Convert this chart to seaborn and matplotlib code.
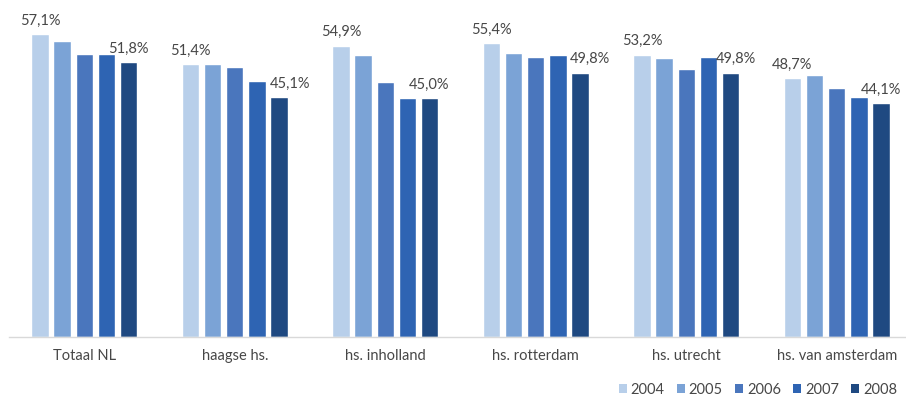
import matplotlib
matplotlib.use("Agg")
import matplotlib.pyplot as plt
import seaborn as sns
import pandas as pd
from matplotlib.patches import Patch

categories = ["Totaal NL", "haagse hs.", "hs. inholland", "hs. rotterdam", "hs. utrecht", "hs. van amsterdam"]
years = ["2004", "2005", "2006", "2007", "2008"]
v2004 = [57.1, 51.4, 54.9, 55.4, 53.2, 48.7]
v2005 = [55.8, 51.4, 53.2, 53.4, 52.5, 49.3]
v2006 = [53.3, 50.8, 48.1, 52.7, 50.4, 46.9]
v2007 = [53.3, 48.2, 45.0, 53.1, 52.7, 45.1]
v2008 = [51.8, 45.1, 45.0, 49.8, 49.8, 44.1]
colors = ["#B8CFEA", "#7BA3D6", "#4A76BD", "#2E64B3", "#1F4981"]
# horizontal nudges (points) of the 2008 value labels, as placed in the original
label_dx_2008 = [0, 8, 0, 7, 3.6, 0]

series = [v2004, v2005, v2006, v2007, v2008]
rows = []
for y, vals in zip(years, series):
    for c, v in zip(categories, vals):
        rows.append({"cat": c, "year": y, "val": v})
df = pd.DataFrame(rows)

sns.set_theme(style="white")
plt.rcParams['font.family'] = ['Lato', 'DejaVu Sans']

fig = plt.figure(figsize=(9.06, 4.01), dpi=100)
W, H = 906, 401
left, right = 9, 912
bottom_px, top_px = 336.5, 18.5
ax = fig.add_axes([left / W, (H - bottom_px) / H, (right - left) / W, (bottom_px - top_px) / H])

sns.barplot(data=df, x="cat", y="val", hue="year", palette=colors, width=0.736,
            gap=0.22, ax=ax, legend=False, saturation=1)
ax.set_ylim(0, 60)
ax.set_xlim(-0.5, len(categories) - 0.5)
ax.set_xlabel("")
ax.set_ylabel("")
ax.set_yticks([])
for s in ["top", "left", "right"]:
    ax.spines[s].set_visible(False)
ax.spines["bottom"].set_color("#D9D9D9")
ax.spines["bottom"].set_linewidth(1.0)
txtc = "#474747"
ax.tick_params(axis="x", length=0, pad=9, labelsize=10.5, labelcolor=txtc)

for idx, dxs in ((0, [0] * len(categories)), (4, label_dx_2008)):
    cont = ax.containers[idx]
    for patch, v, dx in zip(cont.patches, series[idx], dxs):
        x = patch.get_x() + patch.get_width() / 2
        ax.annotate(f"{v:.1f}%".replace(".", ","), xy=(x, patch.get_height()),
                    xytext=(dx, 4.5), textcoords="offset points", ha="center", va="bottom",
                    fontsize=10.5, color=txtc)

handles = [Patch(facecolor=c, edgecolor="none") for c in colors]
leg = fig.legend(handles, years, loc="center right", bbox_to_anchor=(897 / W, (H - 390) / H),
                 ncol=5, frameon=False, fontsize=10.5, handlelength=0.55, handleheight=0.55,
                 handletextpad=0.25, columnspacing=0.85, borderaxespad=0, borderpad=0)
for t in leg.get_texts():
    t.set_color(txtc)

fig.savefig("out.png", dpi=100)
